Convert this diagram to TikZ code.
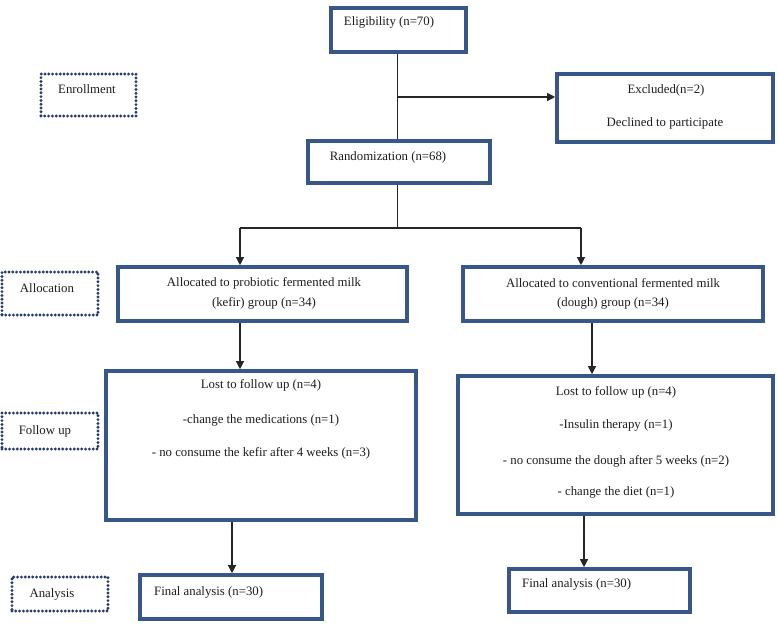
\documentclass[tikz,border=0pt]{standalone}
\usepackage{fontspec}
\setmainfont{Liberation Serif}
\usetikzlibrary{arrows.meta}
\definecolor{boxblue}{RGB}{55,86,138}
\definecolor{dotblue}{RGB}{38,60,110}
\definecolor{txt}{RGB}{30,28,32}
\begin{document}
\begin{tikzpicture}[x=1pt,y=-1pt,
  bluebox/.style={draw=boxblue,line width=3.6pt,inner sep=0pt,fill=white},
  dotbox/.style={draw=dotblue,line width=3.2pt,dash pattern=on 0pt off 3.8pt,line cap=round,inner sep=0pt},
  lbl/.style={font=\fontsize{12.8}{14}\selectfont,text=txt,inner sep=0pt,anchor=center},
  conn/.style={draw=black!85,line width=1.1pt},
  arr/.style={conn,-{Triangle[width=8pt,length=8pt]}}]
\useasboundingbox (0,0) rectangle (778,630);
% boxes
\node[bluebox,minimum width=135pt,minimum height=44pt] (elig) at (398.5,30) {};
\node[bluebox,minimum width=216pt,minimum height=68pt] (excl) at (665,108) {};
\node[bluebox,minimum width=182pt,minimum height=42pt] (rand) at (399,162) {};
\node[bluebox,minimum width=289pt,minimum height=54pt] (allocK) at (262.5,294) {};
\node[bluebox,minimum width=300pt,minimum height=54pt] (allocC) at (613,294) {};
\node[bluebox,minimum width=310pt,minimum height=149pt] (lostK) at (261,445.5) {};
\node[bluebox,minimum width=315pt,minimum height=138pt] (lostD) at (615.5,445) {};
\node[bluebox,minimum width=182pt,minimum height=44pt] (finK) at (231,597) {};
\node[bluebox,minimum width=181pt,minimum height=43pt] (finD) at (599.5,590.5) {};
% stage boxes
\node[dotbox,minimum width=95pt,minimum height=42pt] (enroll) at (88.5,95) {};
\node[dotbox,minimum width=96pt,minimum height=43pt] (alloc) at (50,293.5) {};
\node[dotbox,minimum width=96pt,minimum height=36pt] (follow) at (50,431) {};
\node[dotbox,minimum width=96pt,minimum height=34pt] (anal) at (60,594) {};
% texts
\node[lbl] (t-elig) at (389,22) {Eligibility (n=70)};
\node[lbl] (t-excl1) at (666,90) {Excluded(n=2)};
\node[lbl] (t-excl2) at (665,123) {Declined to participate};
\node[lbl] (t-rand) at (388,157) {Randomization (n=68)};
\node[lbl] (t-ak1) at (264,283) {Allocated to probiotic fermented milk};
\node[lbl] (t-ak2) at (264,303) {(kefir) group (n=34)};
\node[lbl] (t-ac1) at (613,283) {Allocated to conventional fermented milk};
\node[lbl] (t-ac2) at (613,303) {(dough) group (n=34)};
\node[lbl] (t-lk1) at (261,385) {Lost to follow up (n=4)};
\node[lbl] (t-lk2) at (261,420) {-change the medications (n=1)};
\node[lbl] (t-lk3) at (261,453) {- no consume the kefir after 4 weeks (n=3)};
\node[lbl] (t-ld1) at (616,392) {Lost to follow up (n=4)};
\node[lbl] (t-ld2) at (616,425) {-Insulin therapy (n=1)};
\node[lbl] (t-ld3) at (616,461) {- no consume the dough after 5 weeks (n=2)};
\node[lbl] (t-ld4) at (616,492) {- change the diet (n=1)};
\node[lbl,anchor=west] (t-fk) at (154,592) {Final analysis (n=30)};
\node[lbl,anchor=west] (t-fd) at (522,584) {Final analysis (n=30)};
\node[lbl] (t-en) at (87,89) {Enrollment};
\node[lbl] (t-al) at (47,288) {Allocation};
\node[lbl] (t-fu) at (45,431) {Follow up};
\node[lbl] (t-an) at (52,594) {Analysis};
% connectors
\coordinate (br) at (397.5,97);
\coordinate (split) at (397.5,228);
\coordinate (kx) at (240,228);
\coordinate (cx) at (581,228);
\coordinate (cx2) at (592,0);
\coordinate (kx3) at (232,0);
\coordinate (cx3) at (584,0);
\draw[conn] (elig.south -| br) -- (rand.north -| br);
\draw[arr] (br) -- (br -| excl.west);
\draw[conn] (rand.south -| split) -- (split);
\draw[conn] (kx) -- (cx);
\draw[arr] (kx) -- (kx |- allocK.north);
\draw[arr] (cx) -- (cx |- allocC.north);
\draw[arr] (allocK.south -| kx) -- (lostK.north -| kx);
\draw[arr] (allocC.south -| cx2) -- (lostD.north -| cx2);
\draw[arr] (lostK.south -| kx3) -- (finK.north -| kx3);
\draw[arr] (lostD.south -| cx3) -- (finD.north -| cx3);
\end{tikzpicture}
\end{document}
